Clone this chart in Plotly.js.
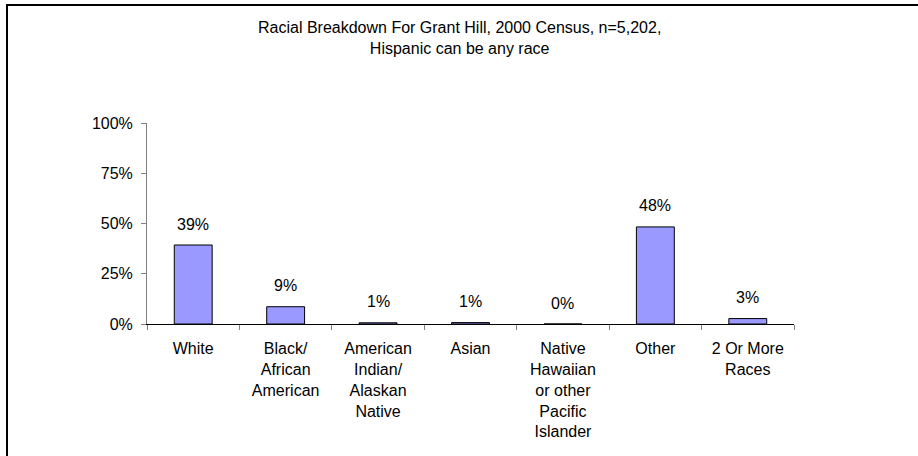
<!DOCTYPE html>
<html>
<head>
<meta charset="utf-8">
<script src="https://cdn.plot.ly/plotly-3.0.1.min.js"></script>
<style>
html,body{margin:0;padding:0;background:#fff;}
#wrap{position:relative;width:918px;height:456px;overflow:hidden;}
#chart{position:absolute;left:0;top:0;width:918px;height:456px;}
#bl{position:absolute;left:6px;top:4px;width:2px;height:452px;background:#000;}
#bt{position:absolute;left:6px;top:4px;width:912px;height:2px;background:#000;}
</style>
</head>
<body>
<div id="wrap"><div id="chart"></div><div id="bl"></div><div id="bt"></div></div>
<script>
const categories = ["White", "Black/<br>African<br>American", "American<br>Indian/<br>Alaskan<br>Native", "Asian", "Native<br>Hawaiian<br>or other<br>Pacific<br>Islander", "Other", "2 Or More<br>Races"];
const shares = [0.393, 0.086, 0.006, 0.007, 0.000, 0.483, 0.027];
const labels = ["39%", "9%", "1%", "1%", "0%", "48%", "3%"];
const yTicks = [0, 0.25, 0.5, 0.75, 1];
const yTickText = ["0%", "25%", "50%", "75%", "100%"];
const titleLines = ["Racial Breakdown For Grant Hill, 2000 Census, n=5,202,", "Hispanic can be any race"];

const font = {family: "Liberation Sans, Arial, sans-serif", size: 16, color: "#000"};

const trace = {
  type: "bar",
  x: categories,
  y: shares,
  marker: {color: "#9999FF", line: {color: "#000", width: 1}},
  hoverinfo: "skip"
};

const annotations = categories.map((c, i) => ({
  x: c, y: shares[i], xref: "x", yref: "y",
  text: labels[i], showarrow: false, yshift: 21,
  font: font
}));
annotations.push({
  xref: "paper", yref: "paper", x: (459 - 147) / 647, y: (324 - 38) / 201,
  xanchor: "center", yanchor: "middle", showarrow: false,
  text: titleLines.join("<br>"), font: font
});

const layout = {
  width: 918, height: 456,
  margin: {l: 147, r: 124, t: 123, b: 132},
  paper_bgcolor: "#fff", plot_bgcolor: "#fff",
  font: font,
  showlegend: false,
  bargap: 0.59,
  xaxis: {
    type: "category",
    showline: true, linecolor: "#000", linewidth: 1,
    ticks: "outside", tickson: "boundaries", ticklen: 5, tickcolor: "#808080",
    ticklabelstandoff: 10,
    showgrid: false, zeroline: false, fixedrange: true,
    tickfont: font, tickangle: 0
  },
  yaxis: {
    range: [0, 1],
    tickvals: yTicks, ticktext: yTickText,
    showline: true, linecolor: "#808080", linewidth: 1,
    ticks: "outside", ticklen: 5, tickcolor: "#808080",
    ticklabelstandoff: 5,
    showgrid: false, zeroline: false, fixedrange: true,
    tickfont: font
  },
  annotations: annotations
};

Plotly.newPlot("chart", [trace], layout, {displayModeBar: false, staticPlot: true});
</script>
</body>
</html>
